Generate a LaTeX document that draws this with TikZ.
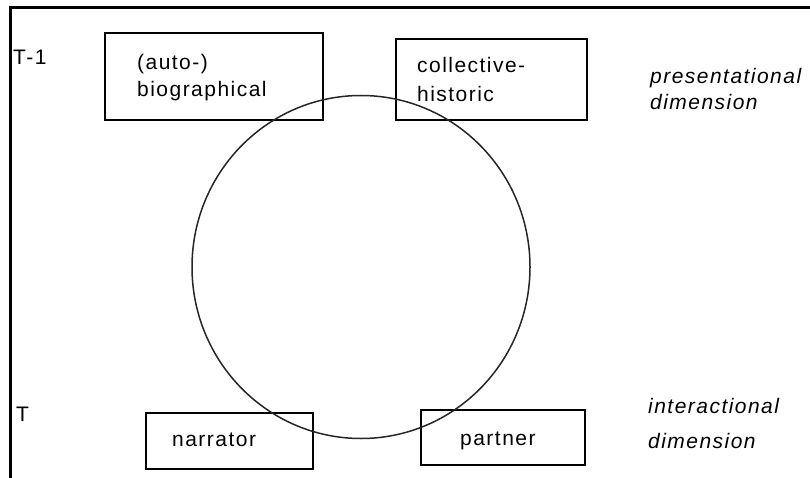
\documentclass[tikz,border=0pt]{standalone}
\usepackage{fontspec}
\setmainfont{Liberation Sans}[LetterSpace=7]
\usetikzlibrary{shapes.geometric}
\tikzset{
  box/.style={draw=black, line width=1.3pt, inner sep=0pt},
  lbl/.style={anchor=base west, inner sep=0pt, font=\fontsize{21}{27}\selectfont},
  ilbl/.style={lbl, font=\fontsize{21}{27}\selectfont\itshape},
  frame/.style={line width=3pt, black},
  ring/.style={draw=black!85, line width=1.5pt, ellipse, inner sep=0pt}
}
\begin{document}
\begin{tikzpicture}[x=1pt,y=-1pt]
\useasboundingbox (0,0) rectangle (810,478);
% frame
\coordinate (ftl) at (10.5,7.7);
\coordinate (ftr) at (812,7.7);
\coordinate (fbl) at (10.5,480);
\draw[frame] (ftr) -- (ftl) -- (fbl);
% boxes
\node[box, minimum width=218pt, minimum height=87pt] (bio) at (214,76.5) {};
\node[box, minimum width=191pt, minimum height=81pt] (coll) at (491.5,79.5) {};
\node[box, minimum width=167pt, minimum height=56pt] (narr) at (229.5,441) {};
\node[box, minimum width=164pt, minimum height=55pt] (part) at (503,437.5) {};
% circle
\node[ring, minimum width=338pt, minimum height=343pt] (cyc) at (361,267) {};
% texts
\node[lbl] (t1) at (13,65) {T-1};
\node[lbl] (t0) at (16,421) {T};
\node[lbl] (bio1) at (137,70) {(auto-)};
\node[lbl] (bio2) at (137,96.7) {biographical};
\node[lbl] (col1) at (417,72.3) {collective-};
\node[lbl] (col2) at (417,101.7) {historic};
\node[lbl] (narrt) at (172,446.7) {narrator};
\node[lbl] (partt) at (460,445) {partner};
\node[ilbl] (pres1) at (650,83.3) {presentational};
\node[ilbl] (pres2) at (650,110) {dimension};
\node[ilbl] (int1) at (648,413) {interactional};
\node[ilbl] (int2) at (648,448) {dimension};
\end{tikzpicture}
\end{document}
